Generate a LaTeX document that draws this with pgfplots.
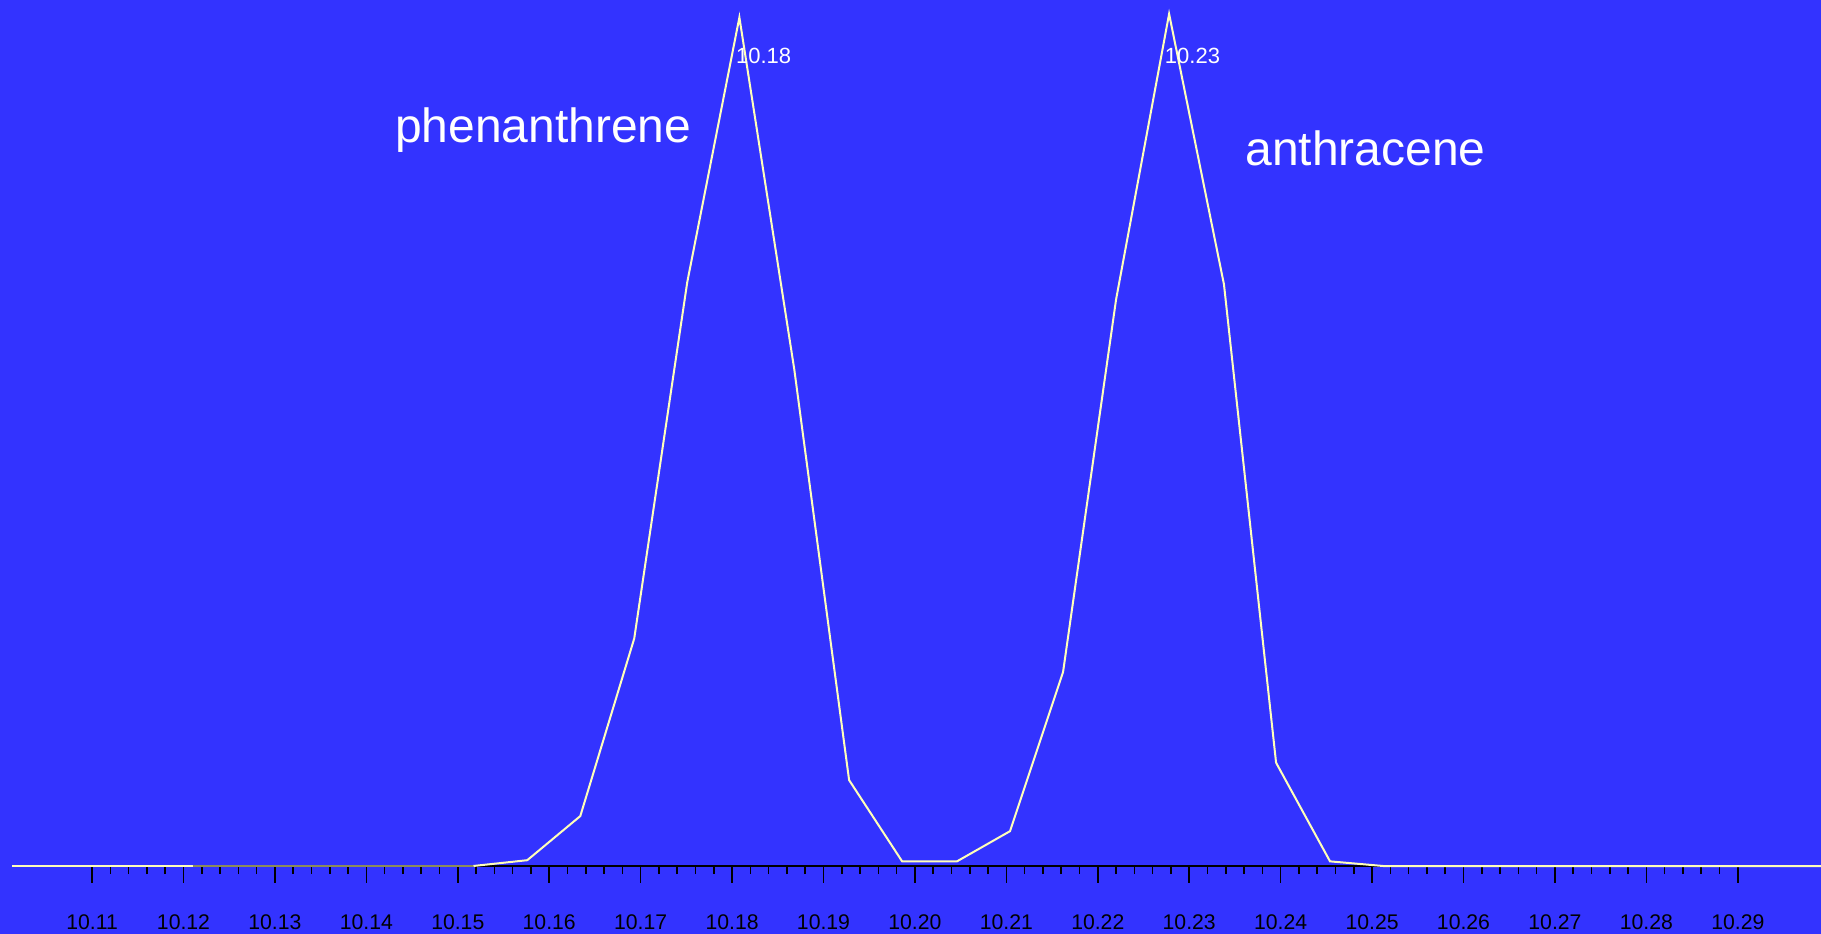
\documentclass[border=0pt]{standalone}
\usepackage{fontspec}
\setmainfont{Liberation Sans}
\usepackage{pgfplots}
\pgfplotsset{compat=1.18}
\definecolor{bg}{RGB}{51,51,255}
\definecolor{curvecol}{RGB}{255,255,185}
\definecolor{olivecol}{RGB}{140,140,90}
\begin{document}
\begin{tikzpicture}
\fill[bg] (0bp,0bp) rectangle (910.5bp,467bp);
\begin{axis}[
  at={(5.8bp,34bp)}, anchor=south west,
  scale only axis, width=904.7bp, height=433bp,
  xmin=10.1012, xmax=10.2991, ymin=0, ymax=746,
  clip=false,
  hide y axis,
  axis x line*=bottom,
  x axis line style={black, line width=1bp},
  xtick={10.11,10.12,10.13,10.14,10.15,10.16,10.17,10.18,10.19,10.20,10.21,10.22,10.23,10.24,10.25,10.26,10.27,10.28,10.29},
  xticklabels={10.11,10.12,10.13,10.14,10.15,10.16,10.17,10.18,10.19,10.20,10.21,10.22,10.23,10.24,10.25,10.26,10.27,10.28,10.29},
  minor tick num=4,
  tick align=outside,
  major tick length=8.3bp, minor tick length=4bp,
  every tick/.style={black, line width=0.75bp},
  xticklabel style={font=\fontsize{10.6bp}{12bp}\selectfont, text=black, anchor=north, inner sep=0pt, yshift=-15.8bp},
]
\addplot[curvecol, line width=1bp] coordinates {(10.1012,0) (10.121,0)};
\addplot[olivecol, line width=1bp] coordinates {(10.121,0) (10.1517,0)};
\addplot[curvecol, line width=1bp] coordinates {
(10.1517,0) (10.1576,5) (10.1634,43) (10.1693,196) (10.1751,503) (10.1808,731)
(10.1868,428) (10.1928,74) (10.1986,4) (10.2046,4) (10.2104,30) (10.2162,167)
(10.2220,488) (10.2278,734) (10.2338,501) (10.2395,89) (10.2454,4) (10.2512,0) (10.2991,0)};
\node[anchor=base west, inner sep=0pt, text=white, font=\fontsize{24bp}{28bp}\selectfont] at (axis cs:10.1431,623) {phenanthrene};
\node[anchor=base west, inner sep=0pt, text=white, font=\fontsize{24bp}{28bp}\selectfont] at (axis cs:10.2361,603) {anthracene};
\node[anchor=base west, inner sep=0pt, text=white, font=\fontsize{11bp}{13bp}\selectfont] at (axis cs:10.1804,691) {10.18};
\node[anchor=base west, inner sep=0pt, text=white, font=\fontsize{11bp}{13bp}\selectfont] at (axis cs:10.2273,691) {10.23};
\end{axis}
\pgfresetboundingbox
\useasboundingbox (0bp,0bp) rectangle (910.5bp,467bp);
\end{tikzpicture}
\end{document}
